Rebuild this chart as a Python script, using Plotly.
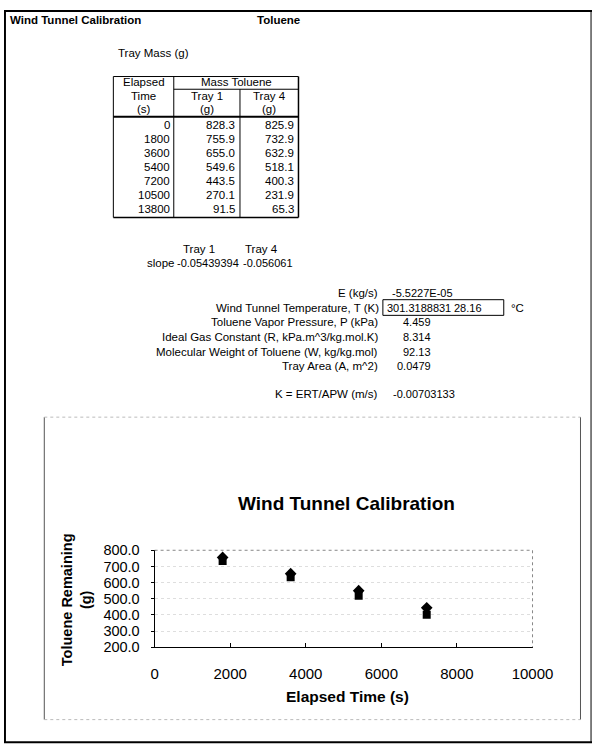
import plotly.graph_objects as go

# ---- data ----
time_s = [0, 1800, 3600, 5400, 7200, 10500, 13800]
tray1_g = [828.3, 755.9, 655.0, 549.6, 443.5, 270.1, 91.5]
tray4_g = [825.9, 732.9, 632.9, 518.1, 400.3, 231.9, 65.3]

slope_names = ["Tray 1", "Tray 4"]
slope_vals = ["-0.05439394", "-0.056061"]

param_labels = [
    "Toluene Vapor Pressure, P (kPa)",
    "Ideal Gas Constant (R, kPa.m^3/kg.mol.K)",
    "Molecular Weight of Toluene (W, kg/kg.mol)",
    "Tray Area (A, m^2)",
]
param_vals = ["4.459", "8.314", "92.13", "0.0479"]

e_val = "-5.5227E-05"
temp_k = "301.3188831"
temp_c = "28.16"
k_val = "-0.00703133"

x_ticks = [0, 2000, 4000, 6000, 8000, 10000]
y_ticks = [200, 300, 400, 500, 600, 700, 800]

FONT = "Liberation Sans, Arial, sans-serif"
W, H = 613, 756

fig = go.Figure()

# chart traces (points outside the axis ranges get clipped, as on the sheet)
fig.add_trace(go.Scatter(
    x=time_s, y=tray1_g, mode="markers", name="Tray 1",
    marker=dict(symbol="diamond", size=9, color="black"),
    xaxis="x", yaxis="y", cliponaxis=True,
))
fig.add_trace(go.Scatter(
    x=time_s, y=tray4_g, mode="markers", name="Tray 4",
    marker=dict(symbol="square", size=8, color="black"),
    xaxis="x", yaxis="y", cliponaxis=True,
))

ann = []
shapes = []


def txt(x, y, s, size=11.5, anchor="left", bold=False, **kw):
    ann.append(dict(
        x=x, y=y, xref="x2", yref="y2", text=f"<b>{s}</b>" if bold else s,
        showarrow=False, xanchor=anchor, yanchor="middle",
        font=dict(family=FONT, size=size, color="black"), **kw))


def line(x0, y0, x1, y1, width=1, color="black", dash="solid"):
    shapes.append(dict(type="line", xref="x2", yref="y2", x0=x0, y0=y0, x1=x1, y1=y1,
                       line=dict(color=color, width=width, dash=dash)))


# page border
line(0, 3, 613, 3, 2)
line(1, 3, 1, 750, 2)
line(0, 750, 613, 750, 2)
line(612, 3, 612, 750, 1)

txt(4, 12, "Wind Tunnel Calibration", bold=True)
txt(262, 12, "Toluene", bold=True)
txt(117, 46, "Tray Mass (g)")

# table
tx0, tx1, tx2, tx3 = 114, 177, 246, 307
ty0, ty_mid, ty_head, ty1 = 70, 83, 111, 214
line(tx0, ty0, tx3, ty0)
line(tx0, ty1, tx3, ty1, 1.5)
line(tx0, ty0, tx0, ty1)
line(tx3, ty0, tx3, ty1, 1.5)
line(tx1, ty0, tx1, ty1)
line(tx2, ty_mid, tx2, ty1)
line(tx1, ty_mid, tx3, ty_mid)
line(tx0, ty_head, tx3, ty_head, 2)

txt((tx0 + tx1) / 2, 76, "Elapsed", anchor="center")
txt((tx0 + tx1) / 2, 90, "Time", anchor="center")
txt((tx0 + tx1) / 2, 103, "(s)", anchor="center")
txt((tx1 + tx3) / 2, 76, "Mass Toluene", anchor="center")
txt((tx1 + tx2) / 2, 90, "Tray 1", anchor="center")
txt((tx2 + tx3) / 2, 90, "Tray 4", anchor="center")
txt((tx1 + tx2) / 2, 103, "(g)", anchor="center")
txt((tx2 + tx3) / 2, 103, "(g)", anchor="center")

for i, (t, a, b) in enumerate(zip(time_s, tray1_g, tray4_g)):
    yy = 120 + i * 14.2
    txt(tx1 - 2, yy, f"{t}", anchor="right")
    txt(tx2 - 3, yy, f"{a:.1f}", anchor="right")
    txt(tx3 - 3, yy, f"{b:.1f}", anchor="right")

# slopes
txt(203, 246, slope_names[0], anchor="center")
txt(268, 246, slope_names[1], anchor="center")
txt(147, 261, "slope")
txt(178, 261, slope_vals[0], size=11)
txt(247, 261, slope_vals[1], size=11)

# parameters
txt(392, 291, "E (kg/s)", anchor="right")
txt(402, 291, e_val, size=11)
txt(393, 306, "Wind Tunnel Temperature, T (K)", anchor="right")
shapes.append(dict(type="rect", xref="x2", yref="y2", x0=395, y0=298, x1=521, y1=314,
                   line=dict(color="black", width=1)))
txt(397, 306, temp_k, size=11)
txt(500, 306, temp_c, size=11, anchor="right")
txt(526, 306, "°C")
for i, (lab, v) in enumerate(zip(param_labels, param_vals)):
    yy = 321 + i * 15
    txt(392, yy, lab, anchor="right")
    txt(447, yy, v, size=11, anchor="right")
txt(392, 394, "K = ERT/APW (m/s)", anchor="right")
txt(403, 394, k_val, size=11)

# chart frame (faint in the scan)
line(42, 418, 42, 727, 1, "#555")
line(601, 418, 601, 727, 1, "#555")
line(42, 418, 601, 418, 1, "#bbb", "dot")
line(42, 727, 601, 727, 1, "#bbb", "dot")

# plot area: solid left/bottom axes, faint dotted top/right edge
px0, px1, py0, py1 = 157, 551, 554, 653
line(px0, py0, px1, py0, 1, "#888", "dot")
line(px1, py0, px1, py1, 1, "#888", "dot")

# chart texts
txt(357, 506, "Wind Tunnel Calibration", size=19, anchor="center", bold=True)
txt(358, 703, "Elapsed Time (s)", size=15.5, anchor="center", bold=True)
txt(75, 604, "Toluene Remaining<br>(g)", size=14.5, anchor="center", bold=True, textangle=-90)

fig.update_layout(
    width=W, height=H,
    margin=dict(l=0, r=0, t=0, b=0),
    paper_bgcolor="white", plot_bgcolor="rgba(0,0,0,0)",
    showlegend=False,
    annotations=ann, shapes=shapes,
    xaxis=dict(
        domain=[px0 / W, px1 / W], anchor="y", range=[0, 10000],
        tickvals=x_ticks, tickformat="d",
        showgrid=False, zeroline=False,
        showline=True, linecolor="black", linewidth=1,
        ticks="inside", ticklen=4, tickcolor="black",
        ticklabelstandoff=13,
        tickfont=dict(family=FONT, size=15, color="black"),
    ),
    yaxis=dict(
        domain=[1 - py1 / H, 1 - py0 / H], anchor="x", range=[200, 800],
        tickvals=y_ticks, tickformat=".1f",
        showgrid=True, gridcolor="#dedede", griddash="dot", gridwidth=1,
        zeroline=False,
        showline=True, linecolor="black", linewidth=1,
        ticks="outside", ticklen=3, tickcolor="black",
        ticklabelstandoff=8,
        tickfont=dict(family=FONT, size=14.5, color="black"),
    ),
    xaxis2=dict(domain=[0, 1], range=[0, W], visible=False, anchor="y2", fixedrange=True),
    yaxis2=dict(domain=[0, 1], range=[H, 0], visible=False, anchor="x2", fixedrange=True),
)

# drop the default body margin so the 613x756 figure fills the window exactly
fig.write_html("out.html", config={"displayModeBar": False},
               post_script="document.body.style.margin='0';document.body.style.overflow='hidden';")
